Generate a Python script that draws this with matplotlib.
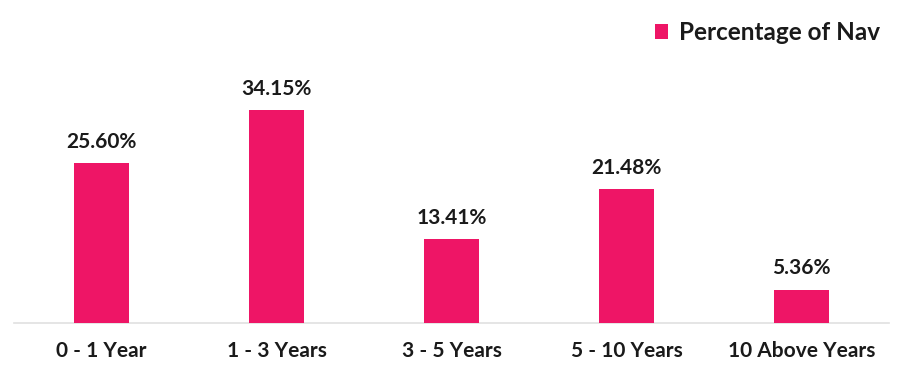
import matplotlib.pyplot as plt
from matplotlib.patches import Patch

categories = ["0 - 1 Year", "1 - 3 Years", "3 - 5 Years", "5 - 10 Years", "10 Above Years"]
nav_pct = [25.60, 34.15, 13.41, 21.48, 5.36]
series_name = "Percentage of Nav"

BAR_COLOR = "#EE1566"
TEXT_COLOR = "#1a1a1a"

plt.rcParams["font.family"] = ["Lato", "DejaVu Sans"]
plt.rcParams["font.weight"] = "bold"

fig = plt.figure(figsize=(9.08, 3.81), dpi=100)
ax = fig.add_axes([14 / 908, 58 / 381, 875 / 908, 281 / 381])

x = range(len(categories))
bars = ax.bar(x, nav_pct, width=0.314, color=BAR_COLOR, zorder=3)

for rect, val in zip(bars, nav_pct):
    ax.annotate(
        f"{val:.2f}%",
        (rect.get_x() + rect.get_width() / 2, rect.get_height()),
        xytext=(0, 8),
        textcoords="offset points",
        ha="center",
        va="bottom",
        fontsize=15,
        fontweight="bold",
        color=TEXT_COLOR,
    )

ax.set_xlim(-0.5, len(categories) - 0.5)
ax.set_ylim(0, 45)
ax.set_xticks(list(x))
ax.set_xticklabels(categories, fontsize=15, fontweight="bold", color=TEXT_COLOR)
ax.tick_params(axis="x", length=0, pad=13)
ax.set_yticks([])

for side in ["top", "right", "left"]:
    ax.spines[side].set_visible(False)
ax.spines["bottom"].set_color("#e0e0e0")
ax.spines["bottom"].set_linewidth(1.2)

handle = Patch(facecolor=BAR_COLOR, label=series_name)
leg = fig.legend(
    handles=[handle],
    loc="upper right",
    bbox_to_anchor=(880 / 908, 1 - 21 / 381),
    frameon=False,
    borderpad=0,
    borderaxespad=0,
    handlelength=0.55,
    handleheight=0.55,
    handletextpad=0.45,
    prop={"family": ["Lato", "DejaVu Sans"], "weight": "bold", "size": 17.5},
)
for t in leg.get_texts():
    t.set_color(TEXT_COLOR)

fig.savefig("out.png", dpi=100, facecolor="white")
